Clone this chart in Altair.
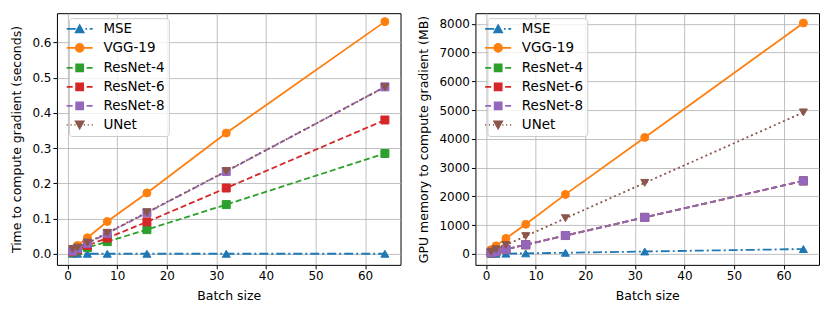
import altair as alt
import pandas as pd

batch = [1, 2, 4, 8, 16, 32, 64]
series = ["MSE", "VGG-19", "ResNet-4", "ResNet-6", "ResNet-8", "UNet"]
colors = ["#1f77b4", "#ff7f0e", "#2ca02c", "#d62728", "#9467bd", "#8c564b"]
shapes = ["triangle-up", "circle", "square", "square", "square", "triangle-down"]
dashes = [[9, 3, 2, 3], None, [6, 3], [6, 3], [6, 3], [2, 3]]

# time to compute gradient (seconds)
time_mse = [0.0005, 0.0005, 0.0005, 0.0005, 0.0005, 0.0005, 0.0005]
time_vgg = [0.013, 0.024, 0.046, 0.092, 0.173, 0.343, 0.659]
time_r4 = [0.005, 0.009, 0.018, 0.035, 0.069, 0.140, 0.285]
time_r6 = [0.006, 0.012, 0.024, 0.045, 0.091, 0.187, 0.380]
time_r8 = [0.008, 0.015, 0.030, 0.058, 0.117, 0.234, 0.474]
time_unet = [0.014, 0.018, 0.032, 0.060, 0.118, 0.235, 0.473]

# GPU memory to compute gradient (MB)
mem_mse = [3, 5, 10, 20, 40, 85, 170]
mem_vgg = [150, 280, 540, 1030, 2070, 4050, 8030]
mem_r4 = [40, 80, 160, 320, 640, 1270, 2540]
mem_r6 = [40, 80, 160, 320, 640, 1270, 2540]
mem_r8 = [40, 80, 160, 320, 640, 1270, 2540]
mem_unet = [80, 160, 310, 620, 1240, 2470, 4920]

x_ticks = [0, 10, 20, 30, 40, 50, 60]
time_ticks = [0.0, 0.1, 0.2, 0.3, 0.4, 0.5, 0.6]
mem_ticks = [0, 1000, 2000, 3000, 4000, 5000, 6000, 7000, 8000]

# legend symbols: line sample + marker, as custom paths (unit coords)
SQ = "M-0.7 -0.7L0.7 -0.7L0.7 0.7L-0.7 0.7Z"
DASHED = "M-2.6 0L-1.4 0M-0.78 0L0.78 0M1.4 0L2.6 0"
legend_paths = [
    "M-2.6 0L-0.78 0M1.16 0L1.5 0M2.02 0L2.6 0M-0.78 0.68L0.78 0.68L0 -0.72Z",
    "M-2.6 0L2.6 0M0.78 0A0.78 0.78 0 1 1 -0.78 0A0.78 0.78 0 1 1 0.78 0Z",
    DASHED + SQ,
    DASHED + SQ,
    DASHED + SQ,
    "M-2.6 0L-2.4 0M-1.82 0L-1.62 0M-1.04 0L-0.84 0M0.84 0L1.04 0M1.62 0L1.82 0M2.4 0L2.6 0"
    "M-0.78 -0.68L0.78 -0.68L0 0.72Z",
]


def long_df(cols):
    rows = []
    for s, vals in zip(series, cols):
        for b, v in zip(batch, vals):
            rows.append({"series": s, "batch": b, "value": v})
    return pd.DataFrame(rows)


def panel(cols, ytitle, ydomain, yticks, yfmt):
    df = long_df(cols)
    base = alt.Chart(df)
    x = alt.X("batch:Q",
              scale=alt.Scale(domain=[-2.15, 67.15], nice=False, zero=False),
              axis=alt.Axis(values=x_ticks, format="d", title="Batch size"))
    y = alt.Y("value:Q",
              scale=alt.Scale(domain=ydomain, nice=False, zero=False),
              axis=alt.Axis(values=yticks, format=yfmt, title=ytitle))
    layers = []
    for i, s in enumerate(series):
        sub = base.transform_filter(alt.datum.series == s)
        lkw = dict(color=colors[i], strokeWidth=1.8)
        if dashes[i] is not None:
            lkw["strokeDash"] = dashes[i]
        layers.append(sub.mark_line(**lkw).encode(x=x, y=y))
        layers.append(sub.mark_point(filled=True, opacity=1, fill=colors[i],
                                     stroke=colors[i], strokeWidth=1,
                                     shape=shapes[i], size=64).encode(x=x, y=y))
    leg = alt.Legend(title=None, orient="none", legendX=12, legendY=5,
                     symbolSize=100, symbolStrokeWidth=1.8,
                     symbolFillColor="black", symbolStrokeColor="black",
                     labelFontSize=13.5, labelFont="DejaVu Sans", labelColor="black",
                     fillColor="rgba(255,255,255,0.8)", strokeColor="#cccccc",
                     cornerRadius=3, padding=4, labelOffset=17, rowPadding=4)
    legend_layer = alt.Chart(pd.DataFrame({"series": series})).mark_point(
        filled=True, opacity=0).encode(
        fill=alt.Fill("series:N", scale=alt.Scale(domain=series, range=colors), legend=leg),
        stroke=alt.Stroke("series:N", scale=alt.Scale(domain=series, range=colors), legend=leg),
        shape=alt.Shape("series:N", scale=alt.Scale(domain=series, range=legend_paths), legend=leg),
    )
    return alt.layer(*layers, legend_layer).properties(width=344, height=252)


left = panel([time_mse, time_vgg, time_r4, time_r6, time_r8, time_unet],
             "Time to compute gradient (seconds)", [-0.031, 0.683], time_ticks, ".1f")
right = panel([mem_mse, mem_vgg, mem_r4, mem_r6, mem_r8, mem_unet],
              "GPU memory to compute gradient (MB)", [-380, 8370], mem_ticks, "d")

chart = alt.hconcat(left, right, spacing=15).resolve_scale(
    fill="independent", stroke="independent", shape="independent"
).resolve_legend(
    fill="independent", stroke="independent", shape="independent"
).properties(
    padding={"left": 2, "top": 4, "right": 2, "bottom": 2}
).configure(
    font="DejaVu Sans",
).configure_view(
    stroke="black", strokeWidth=1
).configure_legend(
    labelFontSize=13.5, labelFont="DejaVu Sans", labelColor="black"
).configure_axis(
    labelFontSize=12, titleFontSize=12.5, titleFontWeight="normal",
    labelColor="black", titleColor="black", tickColor="black", tickSize=4,
    domain=False, gridColor="#b0b0b0", gridWidth=0.8, gridOpacity=1,
    labelPadding=2, titlePadding=8, labelFont="DejaVu Sans", titleFont="DejaVu Sans"
)

chart.save("out.html", embed_options={"renderer": "svg", "actions": False})
